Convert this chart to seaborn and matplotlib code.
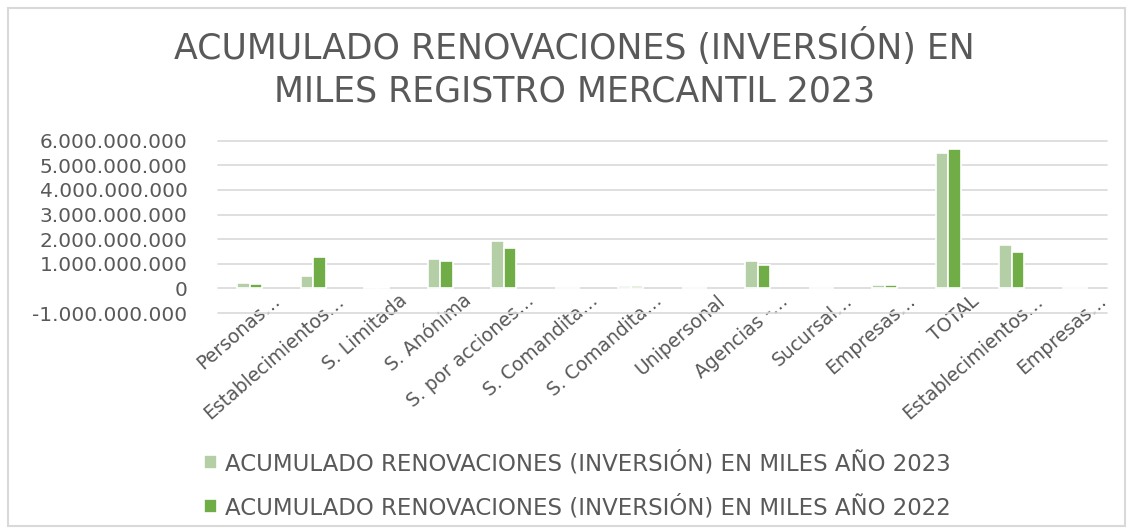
import matplotlib

matplotlib.use("Agg")
import matplotlib.pyplot as plt
import matplotlib.transforms as mtransforms
import pandas as pd
import seaborn as sns
from matplotlib.patches import Rectangle
from matplotlib.ticker import FuncFormatter, MultipleLocator

categories = [
    "Personas…", "Establecimientos…", "S. Limitada", "S. Anónima",
    "S. por acciones…", "S. Comandita…", "S. Comandita…", "Unipersonal",
    "Agencias -…", "Sucursal…", "Empresas…", "TOTAL",
    "Establecimientos…", "Empresas…",
]
values_2023 = [0.22e9, 0.50e9, 0.07e9, 1.21e9, 1.92e9, 0.0, 0.11e9, 0.0,
               1.11e9, 0.0, 0.15e9, 5.49e9, 1.77e9, 0.0]
values_2022 = [0.16e9, 1.26e9, 0.07e9, 1.11e9, 1.64e9, 0.0, 0.11e9, 0.0,
               0.97e9, 0.0, 0.15e9, 5.68e9, 1.49e9, 0.0]
series_names = [
    "ACUMULADO RENOVACIONES (INVERSIÓN) EN MILES AÑO 2023",
    "ACUMULADO RENOVACIONES (INVERSIÓN) EN MILES AÑO 2022",
]
colors = ["#B4CFA6", "#70AD47"]
title = "ACUMULADO RENOVACIONES (INVERSIÓN) EN\nMILES REGISTRO MERCANTIL 2023"

# categories repeat, so key the bars by position and relabel afterwards
keys = [f"c{i}" for i in range(len(categories))]
data = pd.concat(
    [
        pd.DataFrame({"key": keys, "value": values_2023, "serie": series_names[0]}),
        pd.DataFrame({"key": keys, "value": values_2022, "serie": series_names[1]}),
    ],
    ignore_index=True,
)

sns.set_theme(style="white")
plt.rcParams["font.family"] = ["DejaVu Sans"]
text_color = "#595959"

fig = plt.figure(figsize=(11.33, 5.31), dpi=100)
ax = fig.add_axes([0.1924, 0.4105, 0.7846, 0.3245])

sns.barplot(
    data=data, x="key", y="value", hue="serie", order=keys,
    hue_order=series_names, palette=colors, width=0.4, saturation=1,
    edgecolor="white", linewidth=1.2, ax=ax,
)

ax.set_ylim(-1e9, 6e9)
ax.yaxis.set_major_locator(MultipleLocator(1e9))
ax.yaxis.set_major_formatter(FuncFormatter(lambda v, _: f"{v:,.0f}".replace(",", ".")))
ax.grid(axis="y", color="#D9D9D9", linewidth=1.2)
ax.set_axisbelow(True)
for line in ax.get_ygridlines():
    line.set_clip_on(False)
for spine in ax.spines.values():
    spine.set_visible(False)
ax.set_xlabel("")
ax.set_ylabel("")
ax.set_xticks(range(len(categories)))
ax.set_xticklabels(categories, rotation=41, ha="right", rotation_mode="anchor")
ax.tick_params(axis="both", length=0, colors=text_color)
ax.tick_params(axis="x", pad=0, labelsize=13.5)
ax.tick_params(axis="y", pad=22, labelsize=14.5)

# nudge labels so their ends sit right of each category, like the source
shift = mtransforms.ScaledTranslation(22 / 100, 22 / 100, fig.dpi_scale_trans)
for label in ax.get_xticklabels():
    label.set_transform(label.get_transform() + shift)

leg = ax.legend(
    loc="upper left", bbox_to_anchor=(0.172, 0.168), bbox_transform=fig.transFigure,
    frameon=False, fontsize=16.5, handlelength=0.58, handleheight=0.58,
    handletextpad=0.35, labelspacing=0.85, borderaxespad=0,
)
for text in leg.get_texts():
    text.set_color(text_color)

fig.text(0.507, 0.872, title, ha="center", va="center", fontsize=25,
         color=text_color, linespacing=1.3)

fig.patches.append(Rectangle((8 / 1133, 5 / 531), 1117 / 1133, 518 / 531,
                             transform=fig.transFigure, fill=False,
                             edgecolor="#D9D9D9", linewidth=1.5))

fig.savefig("out.png", dpi=100)
plt.close(fig)
